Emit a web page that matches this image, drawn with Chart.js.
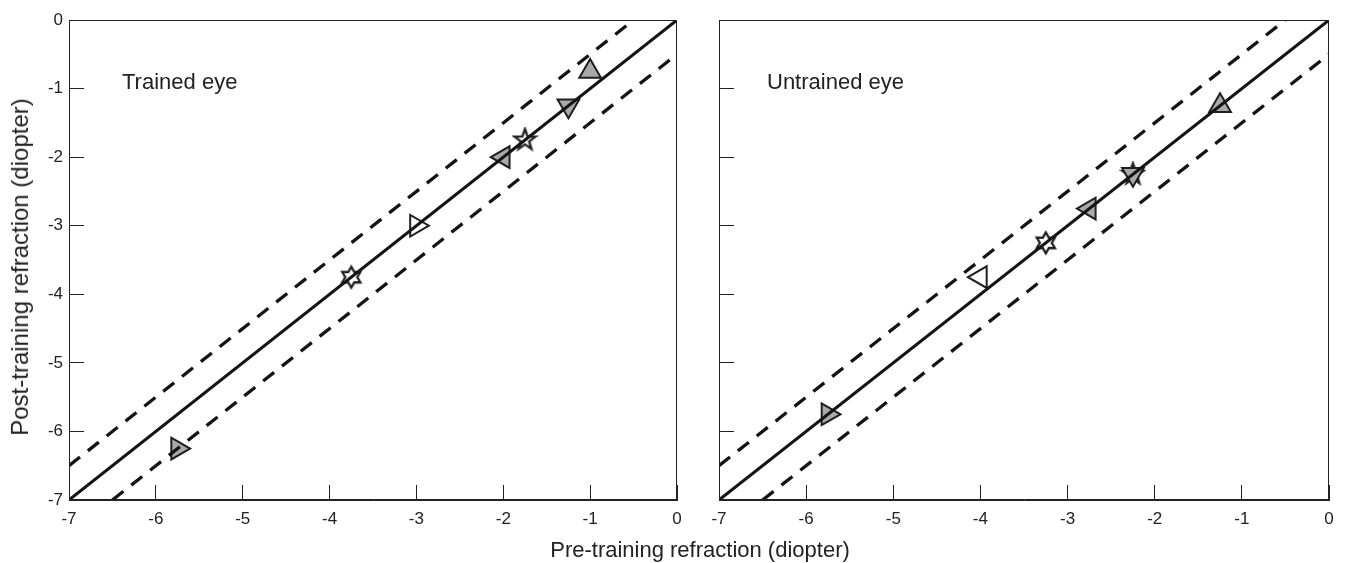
<!DOCTYPE html>
<html>
<head>
<meta charset="utf-8">
<script src="https://cdn.jsdelivr.net/npm/chart.js@4"></script>
<style>
  body { margin: 0; background: #fff; }
  #wrap { position: relative; width: 1348px; height: 563px; font-family: "Liberation Sans", Arial, sans-serif; color: #222; }
  canvas { position: absolute; top: 0; }
  .lbl { position: absolute; white-space: nowrap; }
</style>
</head>
<body>
<div id="wrap">
  <canvas id="left" width="700" height="563" style="left:0;width:700px;height:563px"></canvas>
  <canvas id="right" width="648" height="563" style="left:700px;width:648px;height:563px"></canvas>
  <div class="lbl" style="left:122px;top:69px;font-size:22px">Trained eye</div>
  <div class="lbl" style="left:767px;top:69px;font-size:22px">Untrained eye</div>
  <div class="lbl" style="left:700px;top:537px;font-size:22px;transform:translateX(-50%)">Pre-training refraction (diopter)</div>
  <div class="lbl" style="left:20px;top:267px;font-size:24px;transform:translate(-50%,-50%) rotate(-90deg)">Post-training refraction (diopter)</div>
</div>
<script>
// axis range (diopter)
var axisMin = -7;
var axisMax = 0;

// trained eye: pre vs post refraction
var trainedPre  = [-1, -1.25, -1.75, -2, -3, -3.75, -5.75];
var trainedPost = [-0.75, -1.25, -1.75, -2, -3, -3.75, -6.25];
var trainedMarks = ['up', 'down', 'pentagram', 'left', 'rightOpen', 'hexagram', 'right'];

// untrained eye
var untrainedPre  = [-1.25, -2.25, -2.25, -2.75, -3.25, -4, -5.75];
var untrainedPost = [-1.25, -2.25, -2.25, -2.75, -3.25, -3.75, -5.75];
var untrainedMarks = ['up', 'pentagram', 'down', 'left', 'hexagram', 'leftOpen', 'right'];

// identity line and +/-0.5 D limits
var idX = [-7, 0], idY = [-7, 0];
var upX = [-7, -0.5], upY = [-6.5, 0];
var loX = [-6.5, 0], loY = [-7, -0.5];

var GRAY = '#a9a9a9';
var EDGE = '#1f1f1f';

function starImg(n, outer, inner) {
  var c = document.createElement('canvas');
  var s = Math.ceil(outer * 2 + 5);
  c.width = s; c.height = s;
  var g = c.getContext('2d');
  g.translate(s / 2, s / 2);
  g.beginPath();
  for (var i = 0; i < n * 2; i++) {
    var r = i % 2 ? inner : outer;
    var a = -Math.PI / 2 + i * Math.PI / n;
    g.lineTo(Math.cos(a) * r, Math.sin(a) * r);
  }
  g.closePath();
  g.fillStyle = '#fff';
  g.fill();
  g.lineWidth = 2.3;
  g.lineJoin = 'miter';
  g.strokeStyle = EDGE;
  g.stroke();
  return c;
}

var markers = {
  up:        { style: 'triangle', rot: 0,   fill: GRAY },
  down:      { style: 'triangle', rot: 180, fill: GRAY },
  left:      { style: 'triangle', rot: 270, fill: GRAY },
  right:     { style: 'triangle', rot: 90,  fill: GRAY },
  leftOpen:  { style: 'triangle', rot: 270, fill: '#fff' },
  rightOpen: { style: 'triangle', rot: 90,  fill: '#fff' },
  pentagram: { style: starImg(5, 11, 4.4), rot: 0, fill: '#fff' },
  hexagram:  { style: starImg(6, 10.5, 6), rot: 0, fill: '#fff' }
};

function pts(xs, ys) {
  return xs.map(function (x, i) { return { x: x, y: ys[i] }; });
}

var frame = {
  id: 'frame',
  afterDraw: function (chart) {
    var a = chart.chartArea, g = chart.ctx;
    g.save();
    g.strokeStyle = '#222';
    g.lineWidth = 1;
    g.strokeRect(a.left + 0.5, a.top + 0.5, a.right - a.left - 1, a.bottom - a.top - 1);
    g.restore();
  }
};

function makeChart(id, pre, post, marks, yWidth, padRight, showYLabels) {
  var lineStyle = { showLine: true, pointRadius: 0, fill: false, borderColor: '#141414' };
  return new Chart(document.getElementById(id), {
    type: 'scatter',
    data: {
      datasets: [
        Object.assign({ data: pts(idX, idY), borderWidth: 3 }, lineStyle),
        Object.assign({ data: pts(upX, upY), borderWidth: 3.3, borderDash: [14, 10] }, lineStyle),
        Object.assign({ data: pts(loX, loY), borderWidth: 3.3, borderDash: [14, 10] }, lineStyle),
        {
          data: pts(pre, post),
          pointStyle: marks.map(function (m) { return markers[m].style; }),
          rotation: marks.map(function (m) { return markers[m].rot; }),
          backgroundColor: marks.map(function (m) { return markers[m].fill; }),
          borderColor: EDGE,
          borderWidth: 2,
          radius: 12.5
        }
      ]
    },
    options: {
      responsive: false,
      animation: false,
      layout: { padding: { top: 20, right: padRight, left: 0, bottom: 0 } },
      plugins: { legend: { display: false }, tooltip: { enabled: false } },
      scales: {
        x: {
          type: 'linear', min: axisMin, max: axisMax,
          ticks: { stepSize: 1, padding: 24, color: '#222', font: { family: 'Liberation Sans', size: 17 } },
          grid: { drawOnChartArea: false, tickLength: -15, color: '#222' },
          border: { color: '#222', width: 1 },
          afterFit: function (s) { s.height = 63; s.paddingLeft = 0; s.paddingRight = 0; }
        },
        y: {
          type: 'linear', min: axisMin, max: axisMax,
          ticks: { display: showYLabels, stepSize: 1, padding: 21, color: '#222', font: { family: 'Liberation Sans', size: 17 } },
          grid: { drawOnChartArea: false, tickLength: -15, color: '#222' },
          border: { color: '#222', width: 1 },
          afterFit: function (s) { s.width = yWidth; s.paddingTop = 0; s.paddingBottom = 0; }
        }
      }
    },
    plugins: [frame]
  });
}

makeChart('left', trainedPre, trainedPost, trainedMarks, 69, 23, true);
makeChart('right', untrainedPre, untrainedPost, untrainedMarks, 19, 19, false);
</script>
</body>
</html>
